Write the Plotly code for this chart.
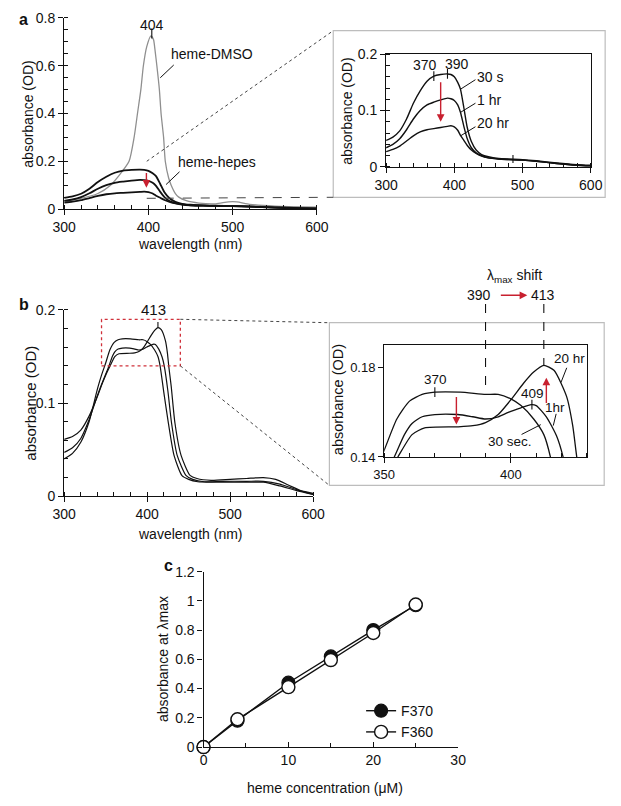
import plotly.graph_objects as go

# the page body has an 8px margin: the figure is placed at (8, 8) in the 621x806 window
OFF = 8
W, H = 621, 806
FW, FH = W - OFF, H - OFF
FONT = "Liberation Sans, Arial, Helvetica, sans-serif"

# ---------------- data ----------------
# panel a : heme in DMSO
wl_dmso = [300, 320, 340, 355, 365, 377, 383, 387, 391, 394, 398, 403, 406, 408, 410, 413, 415, 418, 420,
           424, 427, 432, 436, 445, 460, 480, 495, 505, 520, 550, 600]
abs_dmso = [0.035, 0.045, 0.065, 0.10, 0.14, 0.20, 0.30, 0.40, 0.50, 0.60, 0.68, 0.725, 0.71, 0.66, 0.60, 0.50,
            0.40, 0.30, 0.20, 0.13, 0.10, 0.065, 0.05, 0.035, 0.025, 0.022, 0.03, 0.03, 0.02, 0.012, 0.008]

# panel a : heme in hepes (30 s, 1 hr, 20 hr)
wl_hep = [300, 310, 320, 330, 340, 350, 360, 370, 380, 390, 395, 400, 405, 409, 414, 419, 425, 432, 440,
          450, 465, 480, 500, 520, 550, 580, 600]
hep_30s = [0.047, 0.053, 0.064, 0.085, 0.113, 0.135, 0.152, 0.161, 0.164, 0.165, 0.164, 0.160, 0.150, 0.138,
           0.105, 0.070, 0.045, 0.030, 0.022, 0.018, 0.015, 0.014, 0.013, 0.011, 0.007, 0.004, 0.003]
hep_1hr = [0.034, 0.040, 0.050, 0.066, 0.085, 0.100, 0.110, 0.115, 0.119, 0.122, 0.121, 0.118, 0.110, 0.097,
           0.072, 0.050, 0.034, 0.025, 0.020, 0.016, 0.014, 0.013, 0.012, 0.010, 0.006, 0.003, 0.002]
hep_20hr = [0.027, 0.031, 0.037, 0.046, 0.055, 0.062, 0.066, 0.068, 0.070, 0.072, 0.073, 0.071, 0.065, 0.056,
            0.047, 0.038, 0.030, 0.024, 0.019, 0.016, 0.014, 0.013, 0.012, 0.010, 0.006, 0.003, 0.002]

# panel b : spectra over time
wl_b30 = [300, 310, 320, 330, 340, 345, 350, 355, 360, 365, 370, 380, 390, 395, 400, 404, 409, 413, 415.6,
          420, 425.5, 432.5, 442, 450, 461, 480, 500, 520, 540, 560, 580, 600]
b_30s = [0.040, 0.046, 0.058, 0.080, 0.115, 0.130, 0.143, 0.157, 0.165, 0.168, 0.169, 0.169, 0.168, 0.168,
         0.166, 0.163, 0.157, 0.150, 0.140, 0.112, 0.079, 0.0435, 0.022, 0.018, 0.0155, 0.015, 0.015, 0.015,
         0.015, 0.011, 0.006, 0.002]
wl_b1h = [300, 310, 320, 330, 340, 345, 350, 354, 358, 361, 365, 370, 379, 385, 390, 395, 399, 404, 408, 410,
          414, 418, 420.6, 425, 429.4, 436.3, 446.7, 455, 469, 490, 520, 540, 560, 580, 600]
b_1hr = [0.047, 0.052, 0.062, 0.082, 0.108, 0.120, 0.131, 0.140, 0.150, 0.155, 0.158, 0.159, 0.159, 0.158,
         0.157, 0.158, 0.160, 0.162, 0.1634, 0.163, 0.158, 0.1495, 0.140, 0.113, 0.0786, 0.0435, 0.0224, 0.018,
         0.0155, 0.016, 0.016, 0.016, 0.013, 0.007, 0.002]
wl_b20 = [300, 310, 320, 330, 340, 345, 350, 355.4, 361, 366, 379, 385, 390, 395, 400, 405, 409, 413, 417,
          422, 424.4, 426, 429, 433.5, 441, 451.7, 460, 477, 500, 520, 540, 555, 570, 585, 600]
b_20hr = [0.061, 0.064, 0.071, 0.086, 0.107, 0.119, 0.130, 0.140, 0.150, 0.153, 0.1535, 0.154, 0.1554, 0.159,
          0.1656, 0.173, 0.178, 0.181, 0.1788, 0.167, 0.154, 0.140, 0.118, 0.0786, 0.0435, 0.0224, 0.019, 0.017,
          0.018, 0.019, 0.020, 0.018, 0.012, 0.006, 0.003]

# panel c : linearity
conc = [0, 4, 10, 15, 20, 25]
f370 = [0.0, 0.18, 0.44, 0.62, 0.80, 0.97]
f360 = [0.0, 0.19, 0.41, 0.595, 0.78, 0.975]

# ---------------- layout geometry (window pixels) ----------------
def px(x):
    return (x - OFF) / FW


def py(y):
    return 1 - (y - OFF) / FH


AX = {
    # name: (x0px, x1px, ytop_px, ybot_px, xrange, yrange)
    "a": (54, 317, 10, 205, [300, 600], [0, 0.8]),
    "ai": (389, 602, 47, 162, [300, 600], [0, 0.2]),
    "b": (54, 313, 308, 498, [300, 600], [0, 0.2]),
    "bi": (387, 598, 344, 458, [350, 430], [0.14, 0.19]),
    "c": (199, 464, 575, 754, [0, 30], [0, 1.2]),
}


def d2p(name, xv, yv):
    """data -> window pixel for a given panel"""
    x0, x1, yt, yb, xr, yr = AX[name]
    xp = x0 + (xv - xr[0]) / (xr[1] - xr[0]) * (x1 - x0)
    yp = yb - (yv - yr[0]) / (yr[1] - yr[0]) * (yb - yt)
    return xp, yp


fig = go.Figure()
BLACK = "#111111"

# panel a main
fig.add_trace(go.Scatter(x=wl_dmso, y=abs_dmso, mode="lines", line=dict(color="#8f8f8f", width=1.3, shape="spline", smoothing=0.6),
                         xaxis="x", yaxis="y", showlegend=False))
for ys in (hep_30s, hep_1hr, hep_20hr):
    fig.add_trace(go.Scatter(x=wl_hep, y=ys, mode="lines", line=dict(color=BLACK, width=1.8, shape="spline", smoothing=0.6),
                             xaxis="x", yaxis="y", showlegend=False))
# panel a inset
for ys in (hep_30s, hep_1hr, hep_20hr):
    fig.add_trace(go.Scatter(x=wl_hep, y=ys, mode="lines", line=dict(color=BLACK, width=1.4, shape="spline", smoothing=0.6),
                             xaxis="x2", yaxis="y2", showlegend=False))
# panel b main + inset
for xs, ys in ((wl_b30, b_30s), (wl_b1h, b_1hr), (wl_b20, b_20hr)):
    fig.add_trace(go.Scatter(x=xs, y=ys, mode="lines", line=dict(color=BLACK, width=1.2, shape="spline", smoothing=0.6),
                             xaxis="x3", yaxis="y3", showlegend=False))
    fig.add_trace(go.Scatter(x=xs, y=ys, mode="lines", line=dict(color=BLACK, width=1.3, shape="spline", smoothing=0.6),
                             xaxis="x4", yaxis="y4", showlegend=False))
# panel c
fig.add_trace(go.Scatter(x=conc, y=f370, mode="lines+markers", name="F370",
                         line=dict(color=BLACK, width=1.4),
                         marker=dict(symbol="circle", size=13, color=BLACK, line=dict(color=BLACK, width=1.2)),
                         xaxis="x5", yaxis="y5", cliponaxis=False))
fig.add_trace(go.Scatter(x=conc, y=f360, mode="lines+markers", name="F360",
                         line=dict(color=BLACK, width=1.4),
                         marker=dict(symbol="circle", size=13, color="white", line=dict(color=BLACK, width=1.4)),
                         xaxis="x5", yaxis="y5", cliponaxis=False))


def xax(name, dtick, minor_dtick, mirror=False, tickfont=14, ticks_major="outside"):
    x0, x1, yt, yb, xr, yr = AX[name]
    d = dict(domain=[px(x0), px(x1)], range=xr, showline=True, linecolor=BLACK, linewidth=1.2,
             ticks=ticks_major, ticklen=5, tickwidth=1.1, tickcolor=BLACK, dtick=dtick,
             showgrid=False, zeroline=False, mirror=mirror, tickfont=dict(size=tickfont, color=BLACK),
             fixedrange=True)
    if minor_dtick:
        d["minor"] = dict(dtick=minor_dtick, ticks="inside", ticklen=4, tickwidth=1, tickcolor=BLACK, showgrid=False)
    return d


def yax(name, dtick, minor_dtick, mirror=False, tickfont=14, tickvals=None):
    x0, x1, yt, yb, xr, yr = AX[name]
    d = dict(domain=[py(yb), py(yt)], range=yr, showline=True, linecolor=BLACK, linewidth=1.2,
             ticks="outside", ticklen=5, tickwidth=1.1, tickcolor=BLACK,
             showgrid=False, zeroline=False, mirror=mirror, tickfont=dict(size=tickfont, color=BLACK),
             fixedrange=True)
    if tickvals is not None:
        d["tickvals"] = tickvals
    else:
        d["dtick"] = dtick
    if minor_dtick:
        d["minor"] = dict(dtick=minor_dtick, ticks="inside", ticklen=4, tickwidth=1, tickcolor=BLACK, showgrid=False)
    return d


layout = dict(
    width=FW, height=FH, margin=dict(l=0, r=0, t=0, b=0),
    paper_bgcolor="white", plot_bgcolor="rgba(0,0,0,0)",
    font=dict(family=FONT, size=14, color=BLACK),
    xaxis=dict(xax("a", 100, 20), anchor="y"),
    yaxis=dict(yax("a", 0.2, 0.05), anchor="x"),
    xaxis2=dict(xax("ai", 100, 20, mirror=True), anchor="y2"),
    yaxis2=dict(yax("ai", 0.1, 0.02, mirror=True), anchor="x2"),
    xaxis3=dict(xax("b", 100, 20), anchor="y3"),
    yaxis3=dict(yax("b", 0.1, 0.02), anchor="x3"),
    xaxis4=dict(xax("bi", 50, 10, mirror=True, tickfont=13), anchor="y4"),
    yaxis4=dict(yax("bi", None, None, mirror=True, tickfont=13, tickvals=[0.14, 0.18]), anchor="x4"),
    xaxis5=dict(xax("c", 10, 5, ticks_major="inside"), anchor="y5"),
    yaxis5=dict(yax("c", 0.2, None), anchor="x5"),
    legend=dict(x=px(363), y=py(701), xanchor="left", yanchor="top", font=dict(size=14),
                bgcolor="rgba(0,0,0,0)", itemwidth=30, tracegroupgap=0),
)
fig.update_layout(**layout)

shapes = []
ann = []


def pline(x0, y0, x1, y1, color=BLACK, width=1, dash="solid"):
    shapes.append(dict(type="line", xref="paper", yref="paper", x0=px(x0), y0=py(y0), x1=px(x1), y1=py(y1),
                       line=dict(color=color, width=width, dash=dash)))


def text(x, y, s, size=14, **kw):
    ann.append(dict(x=px(x), y=py(y), xref="paper", yref="paper", text=s, showarrow=False,
                    font=dict(size=size, color=BLACK, family=FONT), xanchor=kw.pop("xanchor", "center"),
                    yanchor=kw.pop("yanchor", "middle"), **kw))


def red_arrow(xr, yr, x_from, y_from, x_to, y_to):
    ann.append(dict(x=x_to, y=y_to, ax=x_from, ay=y_from, xref=xr, yref=yr, axref=xr, ayref=yr,
                    showarrow=True, arrowhead=2, arrowsize=1.1, arrowwidth=1.4, arrowcolor="#c8202f", text=""))


def dtick_mark(name, xr, yr, xv, yv, dy_px):
    """small vertical marker line on a curve"""
    x0, x1, yt, yb, xrng, yrng = AX[name]
    dv = dy_px / (yb - yt) * (yrng[1] - yrng[0])
    shapes.append(dict(type="line", xref=xr, yref=yr, x0=xv, x1=xv, y0=yv - dv, y1=yv + dv,
                       line=dict(color=BLACK, width=1.1)))


# gray inset frames
shapes.append(dict(type="rect", xref="paper", yref="paper", x0=px(334), x1=px(617), y0=py(193), y1=py(23),
                   line=dict(color="#bdbdbd", width=1.2), layer="below"))
shapes.append(dict(type="rect", xref="paper", yref="paper", x0=px(330), x1=px(616), y0=py(487), y1=py(321),
                   line=dict(color="#bdbdbd", width=1.2), layer="below"))

# panel a connectors
pa_top = d2p("a", 398, 0.2)
pa_bot = d2p("a", 398, 0.045)
pline(pa_top[0], pa_top[1], 334, 23, color="#444", width=1, dash="dot")
pline(pa_bot[0], pa_bot[1], 334, 193, color="#444", width=1, dash="dash")

# panel b dotted red box + connectors
shapes.append(dict(type="rect", xref="x3", yref="y3", x0=345, x1=440, y0=0.14, y1=0.19,
                   line=dict(color="#d0303a", width=1.3, dash="dot")))
pb_top = d2p("b", 440, 0.19)
pb_bot = d2p("b", 440, 0.14)
pline(pb_top[0], pb_top[1], 330, 321, color="#444", width=1, dash="dot")
pline(pb_bot[0], pb_bot[1], 330, 487, color="#444", width=1, dash="dot")

# panel a annotations
dtick_mark("a", "x", "y", 404, 0.735, 5)
text(145, 17, "404")
text(208, 47, "heme-DMSO")
pline(168, 58, 154, 71)
text(213, 157, "heme-hepes")
pline(174, 167, 160, 180)
red_arrow("x", "y", 397.6, 0.157, 397.6, 0.089)

# inset a annotations
dtick_mark("ai", "x2", "y2", 370, 0.161, 5)
dtick_mark("ai", "x2", "y2", 390, 0.165, 5)
dtick_mark("ai", "x2", "y2", 486, 0.014, 4)
text(430, 58, "370")
text(463, 57, "390")
text(497, 70, "30 s")
pline(482, 73, 466, 83)
text(496, 94, "1 hr")
pline(482, 97, 467, 106)
text(500, 117, "20 hr")
pline(482, 121, 467, 130)
red_arrow("x2", "y2", 380, 0.153, 380, 0.080)

# panel b annotations
dtick_mark("b", "x3", "y3", 413, 0.184, 3)
text(147, 308, "413", size=15)

# inset b annotations
text(523, 273, "λ<sub>max</sub> shift")
text(486, 293, "390")
text(552, 293, "413")
ann.append(dict(x=px(536), y=py(293), ax=-28, ay=0, xref="paper", yref="paper", axref="pixel",
                ayref="pixel", showarrow=True, arrowhead=2, arrowsize=1.1, arrowwidth=1.4, arrowcolor="#c8202f", text=""))
shapes.append(dict(type="line", xref="x4", yref="paper", x0=390, x1=390, y0=py(302),
                   y1=py(d2p("bi", 390, 0.168)[1]), line=dict(color=BLACK, width=1.1, dash="dash")))
shapes.append(dict(type="line", xref="x4", yref="paper", x0=413, x1=413, y0=py(302),
                   y1=py(d2p("bi", 413, 0.181)[1]), line=dict(color=BLACK, width=1.1, dash="dash")))
dtick_mark("bi", "x4", "y4", 370, 0.169, 5)
dtick_mark("bi", "x4", "y4", 408.3, 0.1634, 5)
text(440, 379, "370", size=13.5)
text(541, 393, "409", size=13.5)
text(580, 358, "20 hr", size=13.5)
pline(577, 367, 571, 382)
text(565, 407, "1hr", size=13.5)
pline(566, 414, 563, 426)
text(518, 442, "30 sec.", size=13.5)
pline(530, 435, 550, 425)
red_arrow("x4", "y4", 378.5, 0.1675, 378.5, 0.1545)
red_arrow("x4", "y4", 414, 0.1635, 414, 0.1755)

# axis titles
text(185, 241, "wavelength (nm)")
text(16, 108, "absorbance (OD)", textangle=-90)
text(348, 105, "absorbance (OD)", textangle=-90)
text(185, 537, "wavelength (nm)")
text(18, 403, "absorbance (OD)", size=15, textangle=-90)
text(339, 400, "absorbance (OD)", size=14.5, textangle=-90)
text(325, 796, "heme concentration (μM)")
text(157, 664, "absorbance at λmax", textangle=-90)

# panel letters
text(12, 12, "<b>a</b>", size=16)
text(12, 302, "<b>b</b>", size=16)
text(163, 569, "<b>c</b>", size=16)

fig.update_layout(shapes=shapes, annotations=ann)
fig.write_html("out.html")
